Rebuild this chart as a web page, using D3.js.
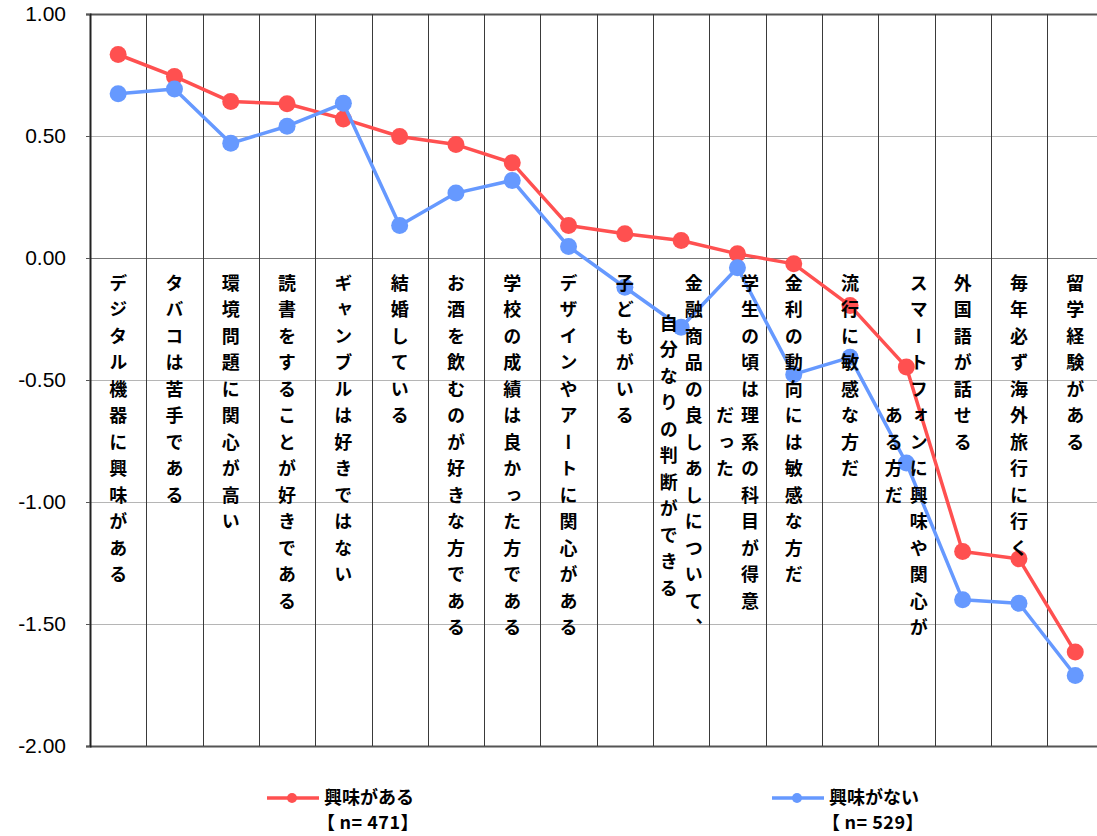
<!DOCTYPE html>
<html>
<head>
<meta charset="utf-8">
<script src="https://cdn.jsdelivr.net/npm/d3@7"></script>
<style>
  html, body { margin: 0; padding: 0; background: #fff; }
  svg { display: block; }
</style>
</head>
<body>
<div id="chart"></div>
<script>
// ---------------- data ----------------
const categories = [
  "デジタル機器に興味がある",
  "タバコは苦手である",
  "環境問題に関心が高い",
  "読書をすることが好きである",
  "ギャンブルは好きではない",
  "結婚している",
  "お酒を飲むのが好きな方である",
  "学校の成績は良かった方である",
  "デザインやアートに関心がある",
  "子どもがいる",
  "金融商品の良しあしについて、\n自分なりの判断ができる",
  "学生の頃は理系の科目が得意\nだった",
  "金利の動向には敏感な方だ",
  "流行に敏感な方だ",
  "スマートフォンに興味や関心が\nある方だ",
  "外国語が話せる",
  "毎年必ず海外旅行に行く",
  "留学経験がある"
];
const interested = [0.834, 0.744, 0.641, 0.632, 0.570, 0.498, 0.465, 0.390, 0.133, 0.099,
                    0.072, 0.017, -0.024, -0.195, -0.447, -1.203, -1.233, -1.615];
const notInterested = [0.673, 0.693, 0.470, 0.540, 0.634, 0.133, 0.266, 0.318, 0.047, -0.120,
                       -0.284, -0.040, -0.477, -0.407, -0.840, -1.401, -1.415, -1.711];
const seriesNames = ["興味がある", "興味がない"];
const sampleSizes = ["【n= 471】", "【n= 529】"];
const yTicks = [1.0, 0.5, 0.0, -0.5, -1.0, -1.5, -2.0];

// ---------------- layout ----------------
const W = 1097, H = 836;
const plotLeft = 90, plotTop = 14, plotBottom = 746, colW = 56.3;
const plotRight = plotLeft + categories.length * colW;
const colors = ["#FF5050", "#6699FF"];
const jpFont = "'Noto Sans CJK JP', 'Noto Sans', sans-serif";

const svg = d3.select("#chart").append("svg").attr("width", W).attr("height", H);

const x = d3.scaleBand().domain(d3.range(categories.length)).range([plotLeft, plotRight]).padding(0);
const y = d3.scaleLinear().domain([-2, 1]).range([plotBottom, plotTop]);
const fmt = d3.formatLocale({decimal: ".", thousands: ",", grouping: [3], currency: ["", ""], minus: "-"}).format(".2f");

// horizontal gridlines
svg.append("g").selectAll("line").data(yTicks).join("line")
  .attr("x1", plotLeft).attr("x2", plotRight)
  .attr("y1", d => Math.round(y(d)) + 0.5).attr("y2", d => Math.round(y(d)) + 0.5)
  .attr("stroke", d => (d === 1 || d === -2) ? "#555" : (d === 0 ? "#777" : "#b5b5b5"))
  .attr("stroke-width", d => (d === 1 || d === -2) ? 2 : 1);

// vertical column separators
svg.append("g").selectAll("line").data(d3.range(1, categories.length + 1)).join("line")
  .attr("x1", i => Math.round(x(0) + i * x.bandwidth()) + 0.5)
  .attr("x2", i => Math.round(x(0) + i * x.bandwidth()) + 0.5)
  .attr("y1", plotTop).attr("y2", plotBottom)
  .attr("stroke", "#3a3a3a").attr("stroke-width", 1);

// y axis
const yAxis = d3.axisLeft(y).tickValues(yTicks).tickFormat(fmt).tickSize(4).tickPadding(20);
const gy = svg.append("g").attr("transform", `translate(${plotLeft},0)`).call(yAxis);
gy.select(".domain").attr("stroke", "#222").attr("stroke-width", 2);
gy.selectAll(".tick line").attr("stroke", "#555");
gy.selectAll(".tick text")
  .attr("font-family", "'Liberation Sans', Arial, sans-serif")
  .attr("font-size", 21).attr("fill", "#000");

// series lines + markers
const series = [interested, notInterested];
const line = d3.line().x((d, i) => x(i) + x.bandwidth() / 2).y(d => y(d));
series.forEach((vals, s) => {
  const g = svg.append("g");
  g.append("path").datum(vals).attr("d", line)
    .attr("fill", "none").attr("stroke", colors[s]).attr("stroke-width", 3.5)
    .attr("stroke-linejoin", "round");
  g.selectAll("circle").data(vals).join("circle")
    .attr("cx", (d, i) => x(i) + x.bandwidth() / 2).attr("cy", d => y(d))
    .attr("r", 8.5).attr("fill", colors[s]);
});

// vertical category labels
const fontSize = 18, pitch = 26.5, colGap = 25, labelTop = 283;
const labels = svg.append("g").attr("font-family", jpFont).attr("font-size", fontSize)
  .attr("font-weight", 700).attr("fill", "#000");
categories.forEach((cat, i) => {
  const cols = cat.split("\n");
  const n = cols.length;
  const maxLen = d3.max(cols, c => Array.from(c).length);
  const cx = x(i) + x.bandwidth() / 2;
  cols.forEach((c, j) => {
    const chars = Array.from(c);
    const colX = cx + ((n - 1) / 2 - j) * colGap;
    const startY = labelTop + (maxLen - chars.length) / 2 * pitch;
    chars.forEach((ch, k) => {
      labels.append("text")
        .attr("x", colX).attr("y", startY + k * pitch)
        .attr("text-anchor", "middle")
        .style("writing-mode", "vertical-rl")
        .text(ch);
    });
  });
});

// legend
const legendX = [267, 772];
const legendY = 798;
series.forEach((vals, s) => {
  const g = svg.append("g").attr("transform", `translate(${legendX[s]},${legendY})`);
  g.append("line").attr("x1", 0).attr("x2", 52).attr("y1", 0).attr("y2", 0)
    .attr("stroke", colors[s]).attr("stroke-width", 3.5);
  g.append("circle").attr("cx", 25).attr("cy", 0).attr("r", 5).attr("fill", colors[s]);
  g.append("text").attr("x", 57).attr("y", 1)
    .attr("dominant-baseline", "middle")
    .attr("font-family", jpFont).attr("font-size", 18).attr("font-weight", 700)
    .text(seriesNames[s]);
  const sz = sampleSizes[s];
  const t = g.append("text").attr("x", 50).attr("y", 26)
    .attr("dominant-baseline", "middle")
    .attr("font-family", jpFont).attr("font-size", 18).attr("font-weight", 700)
    .attr("letter-spacing", 0.5);
  t.append("tspan").text(sz.slice(0, 1));
  t.append("tspan").attr("dx", 4).text(sz.slice(1));
});
</script>
</body>
</html>
